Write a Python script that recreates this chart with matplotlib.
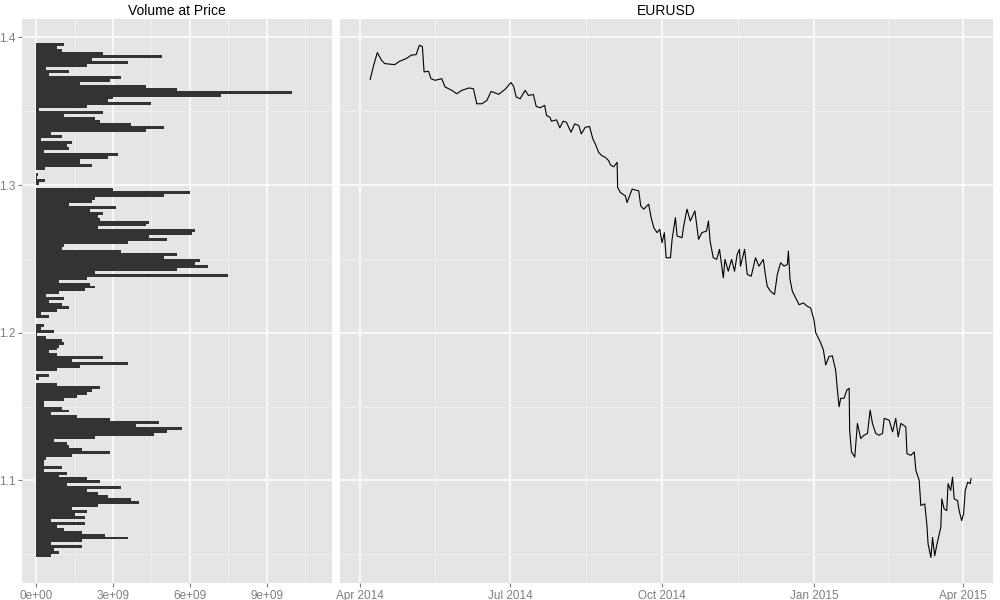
import matplotlib
matplotlib.use('Agg')
import matplotlib.pyplot as plt
import numpy as np
import pandas as pd

# ---- volume at price (bins of 0.002, from the top level downwards), units of 1e9
vap_top_price = 1.395
vap_bin = 0.002
vap_volume_e9 = [
    1.1, 0.8, 1.0, 2.6, 4.9, 2.2, 3.6, 2.0, 0.4, 1.3,
    0.5, 3.3, 2.9, 1.7, 4.3, 5.5, 10.0, 7.2, 3.0, 2.8,
    4.5, 2.0, 0.1, 2.6, 1.1, 2.3, 2.5, 3.7, 5.0, 4.3,
    0.6, 1.0, 0.2, 1.4, 1.2, 1.3, 0.3, 3.2, 2.8, 1.7,
    1.7, 2.2, 0.35, 0.0, 0.08, 0.05, 0.35, 0.1, 0.0, 3.0,
    6.0, 5.0, 2.3, 2.2, 1.3, 3.1, 2.1, 2.6, 2.4, 2.5,
    4.4, 4.3, 2.4, 6.2, 6.1, 4.4, 5.1, 3.6, 1.1, 1.0,
    3.3, 5.5, 5.0, 6.4, 6.2, 6.7, 5.5, 2.3, 7.5, 2.0,
    0.9, 2.1, 2.3, 1.9, 0.9, 0.4, 1.1, 0.5, 1.0, 1.3,
    0.8, 0.2, 0.5, 0.0, 0.0, 0.3, 0.2, 0.7, 0.05, 0.4,
    1.0, 1.1, 0.9, 0.8, 0.5, 0.8, 2.6, 1.4, 3.6, 1.7,
    0.8, 0.0, 0.5, 0.1, 0.0, 0.8, 2.5, 2.2, 2.0, 1.6,
    1.1, 0.3, 0.3, 1.0, 1.3, 0.6, 1.6, 2.9, 4.8, 3.9,
    5.7, 5.1, 4.6, 2.3, 0.7, 1.2, 1.3, 1.8, 2.9, 1.4,
    0.4, 0.3, 0.3, 1.0, 0.3, 1.2, 0.9, 2.0, 2.5, 1.2,
    3.3, 2.0, 2.4, 2.8, 3.7, 4.0, 2.4, 1.4, 2.0, 1.5,
    1.9, 0.6, 1.9, 0.8, 1.1, 1.8, 2.7, 3.6, 1.8, 0.6,
    1.8, 0.7, 0.9, 0.6,
]

# ---- EURUSD, x in days after 2014-04-01
eurusd_day = [
    6.2, 8, 10.5, 13, 15, 21, 24, 28, 31, 34,
    36, 37.8, 38.8, 41.5, 43, 45.5, 49.5, 51.5, 55.6, 58.6,
    61.7, 66, 68.7, 70.7, 73.8, 76.8, 79.4, 84, 88, 91.4,
    93, 94.6, 97, 100, 102, 105, 106.7, 109, 111.8, 113,
    115, 116, 119, 121, 123, 125, 127.8, 130, 132.5, 134,
    136.4, 139, 141, 142.5, 144.5, 146.5, 148.6, 150.6, 151.6, 153.6,
    155.7, 156, 157.7, 160.7, 161.7, 164.8, 168.8, 170, 171.8, 174.8,
    176.3, 177.9, 179.9, 181.5, 182.9, 184.3, 185.4, 188, 189, 191,
    192, 195, 196, 198, 200, 202.8, 205, 207, 209.8, 211,
    212, 213.9, 216, 217.7, 220, 221, 223, 225, 226.8, 228.4,
    229.8, 230.4, 232.9, 234.5, 236.9, 239.5, 241.6, 244.2, 245.6, 246.6,
    248.6, 251, 252.7, 254.7, 256.8, 258.8, 259.4, 260.4, 261.8, 263.8,
    265.9, 268.5, 270.9, 272.9, 274.9, 275.9, 278.6, 280.6, 282, 284,
    286, 288, 289.1, 290.1, 291.1, 293.1, 294.8, 296.2, 296.5, 297.6,
    299.6, 301.2, 303.2, 305.2, 307.3, 308.9, 310.3, 312.3, 314.3, 316.4,
    317.4, 320.4, 322.5, 324.4, 325.9, 327.5, 330.5, 331.2, 333.6, 335.6,
    336.6, 338.6, 339.6, 342, 343.3, 344, 345.7, 346.7, 348, 349.6,
    351.7, 352.3, 353.7, 355.3, 356.1, 357.7, 358.8, 359.8, 361.8, 362.8,
    364.3, 365.5, 366.5, 368, 369.5, 370,
]
eurusd = [
    1.3716, 1.3800, 1.3898, 1.3846, 1.3823, 1.3816, 1.3839, 1.3857, 1.3880, 1.3884,
    1.3948, 1.3937, 1.3767, 1.3771, 1.3721, 1.3710, 1.3721, 1.3665, 1.3642, 1.3619,
    1.3642, 1.3658, 1.3653, 1.3551, 1.3551, 1.3573, 1.3635, 1.3615, 1.3650, 1.3695,
    1.3670, 1.3597, 1.3585, 1.3642, 1.3607, 1.3614, 1.3533, 1.3524, 1.3540, 1.3471,
    1.3460, 1.3433, 1.3442, 1.3388, 1.3433, 1.3426, 1.3358, 1.3415, 1.3403, 1.3347,
    1.3392, 1.3397, 1.3313, 1.3279, 1.3222, 1.3199, 1.3188, 1.3165, 1.3138, 1.3124,
    1.3154, 1.2984, 1.2950, 1.2927, 1.2882, 1.2973, 1.2961, 1.2859, 1.2837, 1.2871,
    1.2780, 1.2712, 1.2678, 1.2701, 1.2610, 1.2678, 1.2508, 1.2508, 1.2633, 1.2780,
    1.2655, 1.2644, 1.2723, 1.2837, 1.2757, 1.2825, 1.2633, 1.2678, 1.2689, 1.2757,
    1.2621, 1.2508, 1.2497, 1.2565, 1.2372, 1.2497, 1.2417, 1.2497, 1.2417, 1.2531,
    1.2565, 1.2451, 1.2565, 1.2395, 1.2383, 1.2508, 1.2451, 1.2497, 1.2383, 1.2315,
    1.2281, 1.2259, 1.2395, 1.2474, 1.2451, 1.2463, 1.2553, 1.2361, 1.2281, 1.2236,
    1.2190, 1.2202, 1.2179, 1.2168, 1.2088, 1.2002, 1.1941, 1.1884, 1.1782, 1.1839,
    1.1844, 1.1748, 1.1612, 1.1499, 1.1556, 1.1556, 1.1612, 1.1624, 1.1340, 1.1193,
    1.1158, 1.1386, 1.1284, 1.1306, 1.1318, 1.1476, 1.1386, 1.1318, 1.1306, 1.1318,
    1.1420, 1.1408, 1.1329, 1.1420, 1.1295, 1.1386, 1.1363, 1.1181, 1.1170, 1.1193,
    1.1068, 1.1000, 1.0830, 1.0841, 1.0694, 1.0569, 1.0478, 1.0614, 1.0490, 1.0580,
    1.0682, 1.0875, 1.0807, 1.0796, 1.0978, 1.0932, 1.1022, 1.0875, 1.0864, 1.0796,
    1.0728, 1.0773, 1.0932, 1.0988, 1.0978, 1.1012,
]

date_ticks = ['2014-04-01', '2014-07-01', '2014-10-01', '2015-01-01', '2015-04-01']
vol_ticks_e9 = [0, 3, 6, 9]
price_ticks = [1.1, 1.2, 1.3, 1.4]

# ---- style (old ggplot2 grey theme)
bg = '#E5E5E5'
axis_grey = '#7F7F7F'
minor_grid = '#F2F2F2'
plt.rcParams['font.family'] = ['Liberation Sans', 'DejaVu Sans']

fig = plt.figure(figsize=(10, 6), dpi=100)
ax_v = fig.add_axes([0.022, 0.0283, 0.310, 0.9400])
ax_p = fig.add_axes([0.340, 0.0283, 0.653, 0.9400], sharey=ax_v)

ylim = (1.0305, 1.4125)


def style_axes(ax):
    ax.set_facecolor(bg)
    for sp in ax.spines.values():
        sp.set_visible(False)
    ax.set_axisbelow(True)
    ax.grid(which='major', color='white', linewidth=1.1)
    ax.grid(which='minor', color=minor_grid, linewidth=0.6)
    ax.tick_params(which='major', colors=axis_grey, labelsize=8.5, length=3, width=0.8, pad=2)
    ax.tick_params(which='minor', length=0)


# ---- volume at price
levels = vap_top_price - vap_bin * np.arange(len(vap_volume_e9))
volume = np.array(vap_volume_e9) * 1e9
style_axes(ax_v)
ax_v.barh(levels, volume, height=vap_bin, color='#333333', linewidth=0)
ax_v.set_xlim(-0.55e9, 11.55e9)
ax_v.set_ylim(ylim)
ax_v.set_xticks([v * 1e9 for v in vol_ticks_e9])
ax_v.set_xticklabels([f'{v * 1e9:.0e}' for v in vol_ticks_e9])
ax_v.set_xticks([(v + 1.5) * 1e9 for v in vol_ticks_e9], minor=True)
ax_v.set_yticks(price_ticks)
ax_v.set_yticklabels([f'{p:.1f}' for p in price_ticks])
ax_v.set_yticks([p - 0.05 for p in price_ticks], minor=True)
ax_v.set_title('Volume at Price', fontsize=10, pad=3)

# ---- price line
t0 = pd.Timestamp('2014-04-01')
dates = t0 + pd.to_timedelta(eurusd_day, unit='D')
style_axes(ax_p)
ax_p.plot(dates, eurusd, color='black', linewidth=0.8)
major = pd.to_datetime(date_ticks)
minor = [a + (b - a) / 2 for a, b in zip(major[:-1], major[1:])]
ax_p.set_xticks(major)
ax_p.set_xticklabels([d.strftime('%b %Y') for d in major])
ax_p.set_xticks(minor, minor=True)
ax_p.set_xlim(t0 + pd.Timedelta(days=-12.1), t0 + pd.Timedelta(days=383.3))
ax_p.tick_params(axis='y', which='both', length=0, labelleft=False)
ax_p.set_title('EURUSD', fontsize=10, pad=3)

fig.savefig('out.png', dpi=100, facecolor='white')
plt.close()
